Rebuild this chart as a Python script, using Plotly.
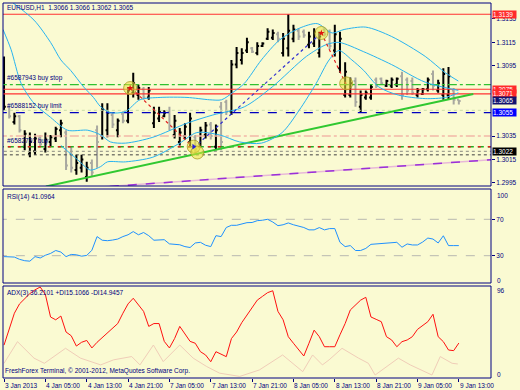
import plotly.graph_objects as go

NAVY = "#000080"
BG = "#FAFAD2"
FONT = "Liberation Sans, Arial, sans-serif"

# ---------------- data (H1 bars, index 0 = 3 Jan 2013 21:00) ----------------
bar_idx = list(range(89))
opens = [1.3058,1.3060,1.3047,1.3052,1.3026,1.3020,1.3022,1.3034,1.3024,1.3030,
         1.3033,1.3040,1.3038,1.3020,1.3006,1.3008,1.3000,1.3012,1.3040,1.3035,
         1.3040,1.3053,1.3040,1.3054,1.3048,1.3072,1.3070,1.3075,1.3068,1.3046,
         1.3050,1.3052,1.3056,1.3036,1.3030,1.3035,1.3030,1.3034,1.3028,1.3036,
         1.3045,1.3026,1.3060,1.3064,1.3056,1.3096,1.3100,1.3108,1.3110,1.3106,
         1.3112,1.3118,1.3119,1.3122,1.3106,1.3110,1.3118,1.3125,1.3124,1.3113,
         1.3114,1.3106,1.3126,1.3124,1.3108,1.3093,1.3070,1.3070,1.3082,1.3060,
         1.3068,1.3068,1.3083,1.3084,1.3078,1.3078,1.3079,1.3086,1.3083,1.3082,
         1.3070,1.3071,1.3075,1.3088,1.3074,1.3070,1.3070,1.3074,1.3066]
highs = [1.3103,1.3061,1.3055,1.3053,1.3040,1.3038,1.3037,1.3036,1.3038,1.3036,
         1.3043,1.3049,1.3040,1.3026,1.3019,1.3019,1.3013,1.3015,1.3044,1.3063,
         1.3063,1.3055,1.3050,1.3056,1.3077,1.3089,1.3079,1.3077,1.3077,1.3060,
         1.3060,1.3057,1.3060,1.3053,1.3042,1.3046,1.3055,1.3036,1.3043,1.3047,
         1.3047,1.3045,1.3064,1.3066,1.3100,1.3111,1.3110,1.3119,1.3111,1.3115,
         1.3115,1.3127,1.3126,1.3124,1.3123,1.3139,1.3130,1.3127,1.3126,1.3124,
         1.3127,1.3124,1.3127,1.3126,1.3130,1.3124,1.3098,1.3085,1.3085,1.3074,
         1.3074,1.3079,1.3085,1.3085,1.3083,1.3085,1.3085,1.3090,1.3085,1.3085,
         1.3076,1.3076,1.3085,1.3091,1.3083,1.3093,1.3094,1.3076,1.3066]
lows = [1.3057,1.3050,1.3045,1.3038,1.3023,1.3017,1.3019,1.3026,1.3021,1.3026,
        1.3030,1.3034,1.3006,1.3004,1.3002,1.3004,1.2996,1.3000,1.3008,1.3032,
        1.3034,1.3042,1.3034,1.3046,1.3046,1.3068,1.3066,1.3066,1.3066,1.3042,
        1.3047,1.3051,1.3040,1.3033,1.3027,1.3032,1.3026,1.3020,1.3026,1.3033,
        1.3032,1.3023,1.3023,1.3053,1.3053,1.3093,1.3096,1.3106,1.3106,1.3104,
        1.3111,1.3117,1.3117,1.3115,1.3103,1.3103,1.3115,1.3117,1.3119,1.3110,
        1.3111,1.3102,1.3120,1.3109,1.3103,1.3089,1.3068,1.3068,1.3060,1.3055,
        1.3066,1.3066,1.3076,1.3079,1.3077,1.3076,1.3077,1.3066,1.3070,1.3070,
        1.3068,1.3070,1.3073,1.3074,1.3072,1.3066,1.3066,1.3062,1.3062]
closes = [1.3060,1.3052,1.3052,1.3040,1.3037,1.3030,1.3033,1.3028,1.3032,1.3034,
          1.3041,1.3046,1.3010,1.3008,1.3012,1.3015,1.3008,1.3004,1.3030,1.3058,
          1.3055,1.3045,1.3048,1.3048,1.3074,1.3080,1.3076,1.3068,1.3074,1.3055,
          1.3056,1.3055,1.3044,1.3048,1.3038,1.3043,1.3050,1.3024,1.3040,1.3044,
          1.3035,1.3040,1.3030,1.3056,1.3096,1.3106,1.3106,1.3115,1.3107,1.3112,
          1.3114,1.3124,1.3123,1.3118,1.3118,1.3125,1.3126,1.3120,1.3121,1.3120,
          1.3124,1.3120,1.3122,1.3112,1.3122,1.3118,1.3090,1.3080,1.3064,1.3070,
          1.3072,1.3077,1.3078,1.3080,1.3082,1.3083,1.3084,1.3070,1.3074,1.3072,
          1.3074,1.3075,1.3083,1.3078,1.3080,1.3088,1.3086,1.3066,1.3065]

# Bollinger-type bands (bar index, price)
band_up_x = [1.35,5.8,9.0,11.0,12.9,15.4,17.3,18.7,20.6,23.5,26.3,30.2,35.4,39.8,42.1,
             44.2,46.5,49.8,53.3,57.1,60.6,63.5,65.8,70.0,75.0,81.5,85.4,87.9]
band_up = [1.3150,1.3134,1.3115,1.3100,1.3091,1.3077,1.3068,1.3060,1.3055,1.3056,1.3066,
           1.3068,1.3068,1.3066,1.3066,1.3072,1.3080,1.3100,1.3117,1.3127,1.3131,1.3123,
           1.3126,1.3128,1.3120,1.3103,1.3089,1.3082]
band_mid_x = [-0.2,1.35,3.3,5.8,9.0,12.3,16.2,18.7,20.6,23.5,28.8,35.4,40.4,46.5,51.9,
              58.5,62.3,64.8,69.6,75.0,81.5,87.9]
band_mid = [1.3126,1.3109,1.3080,1.3063,1.3051,1.3040,1.3040,1.3036,1.3030,1.3029,1.3034,
            1.3046,1.3053,1.3060,1.3077,1.3103,1.3113,1.3115,1.3107,1.3096,1.3081,1.3074]
band_low_x = [11.0,14.2,16.7,18.7,20.0,23.5,28.8,34.0,37.3,41.7,45.6,49.8,53.8,57.1,60.4,
              62.9,64.8,67.3,69.6,72.5,76.3,81.5,85.4,87.9]
band_low = [1.3027,1.3015,1.3006,1.3009,1.3013,1.3013,1.3017,1.3029,1.3038,1.3036,1.3030,
            1.3029,1.3038,1.3057,1.3080,1.3100,1.3108,1.3100,1.3091,1.3077,1.3070,1.3067,
            1.3068,1.3072]

rsi = [29,29,28.5,26,24.5,24,29,27.5,30.5,32.5,
       35.7,34,29,31.4,31,29.5,30.3,36,51,47,
       46.5,47.2,48.3,51,53,56.5,53,55.5,52,47,
       47.6,47.6,43,42.5,42,40,39,44,44.7,41.5,
       40,52,51,61,63.4,63.4,64.5,66.3,66.5,68.5,
       69,70,67,63,64,66,64,62.3,61,58.4,
       58.4,60.9,58.4,59.8,59.8,44.7,40,41.1,35.7,35.7,
       38,42.5,43,43,44,44.5,44.7,39.3,42.9,41.8,
       41.8,45,49.4,48.3,44,51.9,41.1,41.1,41.1]

adx = [34,52,68,78,84,89,93,96,88,64,
       61,65,48,44,33,37,39,31,37,42,
       48,53,57,68,78,84,77,70,54,57,
       57,38,31,41,54,46,38,36,27,23.5,
       16.3,27,24,21.7,41,48,58,66,75,82,
       86,90,92,70,61,43,36,29,22.4,36,
       50,43,32.3,32.3,32.3,45,57,71.5,77,82,
       85,64,61.5,59,43,39.5,32.3,37.7,39.5,43,
       50.8,55,59,66.9,43,37.7,28.8,28.1,36.2]

di_x = [0,2.6,5.8,7.8,11.9,14.8,18.7,21.2,24.7,26.3,28.9,30.8,34,36.6,39.2,41.7,45.6,
        49.4,53.9,57.8,59.7,61.6,62.9,65.4,68.6,70.5,71.8,76.3,78.6,82.8,84.4,85.4,86.7,87.8]
di_val = [14.6,37.7,20.1,14.6,30.6,20.1,12.9,18.3,21.8,12.9,34.1,16.4,34.1,20.1,11.2,4.1,0.6,
          7.5,23.5,5.7,23.5,12.9,18.3,30.6,20.1,14.6,2.1,20.1,12.9,2.1,21.8,18.3,14.6,13.9]

time_tick_idx = [0,8,16,24,32,40,48,56,64,72,80,88]
time_tick_text = ["3 Jan 2013","4 Jan 05:00","4 Jan 13:00","4 Jan 21:00","7 Jan 05:00",
                  "7 Jan 13:00","7 Jan 21:00","8 Jan 05:00","8 Jan 13:00","8 Jan 21:00",
                  "9 Jan 05:00","9 Jan 13:00"]
price_ticks = [1.3135,1.3115,1.3095,1.3035,1.3015,1.2995]

red_levels = [1.3139,1.3075,1.3071]
buy_stop_level = 1.3079
buy_limit_level = 1.3055
faint_level = 1.3057
pink_level = 1.3035
buy_level = 1.3026
gray_level = 1.3022
black_level = 1.3019

green_trend_x = [8.1, 90.8]
green_trend_y = [1.2992, 1.3071]
purple_trend_x = [17.0, 95.0]
purple_trend_y = [1.2991, 1.3015]
trade1_x = [24.6, 36.7]; trade1_y = [1.3076, 1.3025]
trade2_x = [36.7, 61.4]; trade2_y = [1.3025, 1.3123]
trade3_x = [61.4, 66.2]; trade3_y = [1.3123, 1.3079]
circle_x = [24.4, 36.7, 37.4, 61.4, 66.2]
circle_y = [1.3076, 1.3026, 1.3021, 1.3123, 1.3080]

# price labels on the right scale: (value, background)
price_boxes = [(1.3139, "#FF2A2A"), (1.3075, "#FF2A2A"), (1.3071, "#FF2A2A"),
               (1.3065, "#14146E"), (1.3055, "#0000FF"), (1.3022, "#000000")]

# ---------------- layout geometry ----------------
W, H = 520, 390
ML, MR, MT, MB = 3, 26, 3, 12
PW, PH = W - ML - MR, H - MT - MB
def px_x(px):
    return (px - ML) / PW
def px_y(py):
    return (H - MB - py) / PH

dom_main = [px_y(186), 1.0]
dom_rsi = [px_y(283), px_y(189)]
dom_adx = [0.0, px_y(286)]

XR = [-0.2, -0.2 + PW / 5.2]

fig = go.Figure()

def line(xs, ys, color, dash="solid", width=1, axis="y", opacity=1.0):
    fig.add_trace(go.Scatter(x=xs, y=ys, mode="lines", xaxis="x", yaxis=axis,
                             line=dict(color=color, dash=dash, width=width),
                             opacity=opacity, hoverinfo="skip", showlegend=False))

XL = [XR[0] - 1, XR[1] + 1]
# horizontal levels
line(XL, [faint_level]*2, "#C8DCA8", "dot", 1)
line(XL, [pink_level]*2, "#F2B8A8", "dashdot", 1.5)
line(XL, [gray_level]*2, "#A0A090", "dot", 1.2)
line(XL, [black_level]*2, "#404040", "dot", 1)
line(XL, [buy_level]*2, "#20B020", "6px,4px", 1.5)
line(XL, [buy_level]*2, "#E02020", "3px,7px", 1.5)
line(XL, [buy_limit_level]*2, "#0000C0", "dash", 1.2)
line(XL, [buy_stop_level]*2, "#30C030", "dashdot", 1.2)
for lv in red_levels:
    line(XL, [lv]*2, "#FF3030", "solid", 1.2)

# trend lines
line(purple_trend_x, purple_trend_y, "#E8B8D8", "solid", 1.5)
line(purple_trend_x, purple_trend_y, "#9A30D8", "dash", 1.5)
line(green_trend_x, green_trend_y, "#30C830", "solid", 2)

# bands
for bx, by in [(band_up_x, band_up), (band_mid_x, band_mid), (band_low_x, band_low)]:
    fig.add_trace(go.Scatter(x=bx, y=by, mode="lines", xaxis="x", yaxis="y",
                             line=dict(color="#28B4F0", width=1, shape="spline", smoothing=0.8),
                             hoverinfo="skip", showlegend=False))

# trade lines
line(trade1_x, trade1_y, "#E02020", "dot", 1.2)
line(trade2_x, trade2_y, "#3030D0", "dot", 1.2)
line(trade3_x, trade3_y, "#E02020", "dot", 1.2)

# price bars
fig.add_trace(go.Ohlc(x=bar_idx, open=opens, high=highs, low=lows, close=closes,
                      xaxis="x", yaxis="y", tickwidth=0.35,
                      increasing=dict(line=dict(color="#000000", width=2)),
                      decreasing=dict(line=dict(color="#A8A8A0", width=2)),
                      hoverinfo="skip", showlegend=False))

# trade circles
fig.add_trace(go.Scatter(x=circle_x, y=circle_y, mode="markers", xaxis="x", yaxis="y",
                         marker=dict(size=13, color="rgba(235,225,60,0.55)",
                                     line=dict(color="rgba(170,160,40,0.8)", width=1)),
                         hoverinfo="skip", showlegend=False))
fig.add_trace(go.Scatter(x=[circle_x[0], circle_x[3]], y=[circle_y[0], circle_y[3]], mode="markers",
                         xaxis="x", yaxis="y", marker=dict(size=5, color="#E01010", symbol="star"),
                         hoverinfo="skip", showlegend=False))
fig.add_trace(go.Scatter(x=[circle_x[1]], y=[circle_y[1]], mode="markers",
                         xaxis="x", yaxis="y", marker=dict(size=5, color="#2020E0", symbol="triangle-right"),
                         hoverinfo="skip", showlegend=False))

# RSI panel
line(XL, [70, 70], "#B8B8B0", "dash", 1, "y2")
line(XL, [30, 30], "#B8B8B0", "dash", 1, "y2")
line(bar_idx, rsi, "#1E90FF", "solid", 1, "y2")

# ADX panel
line(di_x, di_val, "#F0CDB8", "solid", 1, "y3")
line(bar_idx, adx, "#FF1010", "solid", 1, "y3")

axis_font = dict(family=FONT, size=6.5, color=NAVY)
fig.update_layout(
    width=W, height=H, margin=dict(l=ML, r=MR, t=MT, b=MB),
    paper_bgcolor=BG, plot_bgcolor=BG, showlegend=False,
    font=dict(family=FONT, size=6.5, color=NAVY),
    xaxis=dict(range=XR, anchor="y3", showgrid=False, zeroline=False, showline=False,
               tickvals=time_tick_idx, showticklabels=False, ticks="outside",
               ticklen=3, tickcolor=NAVY, rangeslider=dict(visible=False)),
    yaxis=dict(domain=dom_main, range=[1.29924, 1.31486], side="right", anchor="x",
               tickvals=price_ticks, ticktext=[f"{v:.4f}" for v in price_ticks],
               ticks="outside", ticklen=3, tickcolor=NAVY, tickfont=axis_font,
               showgrid=False, zeroline=False, showline=False),
    yaxis2=dict(domain=dom_rsi, range=[0, 103.3], side="right", anchor="x",
                tickvals=[70, 30], ticktext=["70", "30"], ticks="outside", ticklen=3,
                tickcolor=NAVY, tickfont=axis_font, showgrid=False, zeroline=False, showline=False),
    yaxis3=dict(domain=dom_adx, range=[-1.07, 97.07], side="right", anchor="x",
                tickvals=[], showgrid=False, zeroline=False, showline=False),
)

ann = []
# right scale boxes
for val, col in price_boxes:
    ann.append(dict(x=1, xref="paper", y=val, yref="y", xanchor="left", yanchor="middle",
                    xshift=1, text=f"{val:.4f}", showarrow=False, bgcolor=col,
                    font=dict(family=FONT, size=6.5, color="white"), borderpad=0, width=23,
                    height=7, align="left", valign="middle"))
# RSI / ADX extreme labels
for txt, py in [("100", 195), ("0", 280)]:
    ann.append(dict(x=1, xref="paper", y=px_y(py), yref="paper", xanchor="left", yanchor="middle",
                    xshift=4, text=txt, showarrow=False, font=axis_font))
for txt, py in [("96", 290), ("0", 374)]:
    ann.append(dict(x=1, xref="paper", y=px_y(py), yref="paper", xanchor="left", yanchor="middle",
                    xshift=4, text=txt, showarrow=False, font=axis_font))
# time labels
for ti, tt in zip(time_tick_idx, time_tick_text):
    ann.append(dict(x=ti, xref="x", y=0, yref="paper", xanchor="left", yanchor="top",
                    xshift=-1, yshift=-2, text=tt, showarrow=False, font=axis_font))
# panel texts
ann.append(dict(x=px_x(5), xref="paper", y=px_y(8), yref="paper", xanchor="left", yanchor="middle",
                text="EURUSD,H1  1.3066 1.3066 1.3062 1.3065", showarrow=False, font=axis_font))
ann.append(dict(x=px_x(5), xref="paper", y=buy_stop_level, yref="y", xanchor="left", yanchor="bottom",
                yshift=1, text="#6587943 buy stop", showarrow=False, font=axis_font))
ann.append(dict(x=px_x(5), xref="paper", y=buy_limit_level, yref="y", xanchor="left", yanchor="bottom",
                yshift=1, text="#6588152 buy limit", showarrow=False, font=axis_font))
ann.append(dict(x=px_x(5), xref="paper", y=buy_level, yref="y", xanchor="left", yanchor="bottom",
                yshift=0, text="#6582791 buy", showarrow=False, font=axis_font))
ann.append(dict(x=px_x(5), xref="paper", y=px_y(197), yref="paper", xanchor="left", yanchor="middle",
                text="RSI(14) 41.0964", showarrow=False, font=axis_font))
ann.append(dict(x=px_x(5), xref="paper", y=px_y(293), yref="paper", xanchor="left", yanchor="middle",
                text="ADX(3) 36.2101 +DI15.1066 -DI14.9457", showarrow=False, font=axis_font))
ann.append(dict(x=px_x(3), xref="paper", y=px_y(371), yref="paper", xanchor="left", yanchor="middle",
                text="FreshForex Terminal, \u00a9 2001-2012, MetaQuotes Software Corp.", showarrow=False,
                font=axis_font))
fig.update_layout(annotations=ann)

# panel frames
shapes = []
for d in (dom_main, dom_rsi, dom_adx):
    shapes.append(dict(type="rect", xref="paper", yref="paper", x0=0, x1=1, y0=d[0], y1=d[1],
                       line=dict(color=NAVY, width=1), fillcolor="rgba(0,0,0,0)", layer="above"))
fig.update_layout(shapes=shapes)

fig.write_html("out.html", config={"displayModeBar": False},
               post_script="document.body.style.margin='0';document.body.style.background='%s';" % BG)
